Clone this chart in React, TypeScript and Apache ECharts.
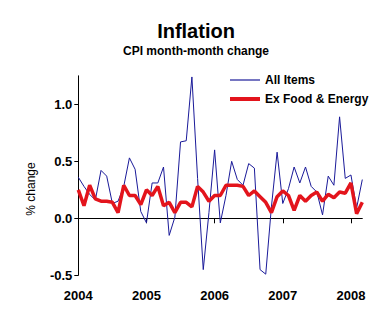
import React, { useEffect, useRef } from "react";
import * as echarts from "echarts";

const months: string[] = [];
for (let y = 2004; y <= 2008; y++) {
  for (let m = 1; m <= 12; m++) {
    if (y === 2008 && m > 3) break;
    months.push(`${y}-${m < 10 ? "0" + m : m}`);
  }
}

const yTicks = [-0.5, 0, 0.5, 1.0];

const allItems = [
  0.36, 0.28, 0.21, 0.16, 0.42, 0.37, 0.13, 0.15, 0.28, 0.53, 0.43, 0.06,
  -0.04, 0.31, 0.31, 0.45, -0.15, 0.01, 0.67, 0.68, 1.24, 0.35, -0.45, 0.05,
  0.6, -0.04, 0.2, 0.5, 0.34, 0.29, 0.48, 0.44, -0.45, -0.49, 0.1, 0.58,
  0.13, 0.26, 0.45, 0.31, 0.45, 0.28, 0.23, 0.03, 0.37, 0.29, 0.89, 0.35,
  0.38, 0.09, 0.34,
];

const exFoodEnergy = [
  0.25, 0.11, 0.29, 0.17, 0.15, 0.15, 0.14, 0.05, 0.29, 0.2, 0.2, 0.12,
  0.25, 0.2, 0.28, 0.11, 0.14, 0.05, 0.14, 0.14, 0.1, 0.28, 0.23, 0.15,
  0.2, 0.2, 0.29, 0.29, 0.29, 0.28, 0.2, 0.24, 0.19, 0.14, 0.05, 0.19,
  0.24, 0.2, 0.07, 0.2, 0.15, 0.2, 0.23, 0.15, 0.21, 0.18, 0.23, 0.22,
  0.31, 0.04, 0.14,
];

const FONT = 'Arial, "Liberation Sans", sans-serif';
const BLUE = "#1a1a99";
const RED = "#e3141c";

export default function App() {
  const ref = useRef<HTMLDivElement>(null);
  useEffect(() => {
    if (!ref.current) return;
    const chart = echarts.init(ref.current, undefined, { renderer: "svg" });
    const isJan = (idx: number) => idx % 12 === 0;
    chart.setOption({
      animation: false,
      backgroundColor: "#ffffff",
      title: {
        text: "Inflation",
        subtext: "CPI month-month change",
        left: 191,
        textAlign: "center",
        top: 16,
        itemGap: 4,
        textStyle: { fontFamily: FONT, fontWeight: "bold", fontSize: 20, color: "#000" },
        subtextStyle: { fontFamily: FONT, fontWeight: "bold", fontSize: 12, color: "#000" },
      },
      legend: [
        {
          data: [{ name: "All Items", icon: "rect" }],
          left: 230,
          top: 74,
          padding: 0,
          itemWidth: 30,
          itemHeight: 1.2,
          textStyle: { fontFamily: FONT, fontWeight: "bold", fontSize: 12, color: "#000" },
        },
        {
          data: [{ name: "Ex Food & Energy", icon: "rect" }],
          left: 230,
          top: 93,
          padding: 0,
          itemWidth: 30,
          itemHeight: 4,
          textStyle: { fontFamily: FONT, fontWeight: "bold", fontSize: 12, color: "#000" },
        },
      ],
      graphic: [
        {
          type: "text",
          x: 31,
          y: 189,
          rotation: Math.PI / 2,
          style: {
            text: "% change",
            fontFamily: FONT,
            fontSize: 12,
            fill: "#000",
            align: "center",
            verticalAlign: "middle",
          },
        },
      ],
      grid: { left: 78.3, right: 21.7, top: 75.8, bottom: 49.7, containLabel: false },
      xAxis: [
        {
          type: "category",
          data: months,
          boundaryGap: false,
          axisLine: { onZero: true, lineStyle: { color: "#000", width: 1 } },
          axisTick: { show: true, interval: (idx: number) => isJan(idx), length: 5, lineStyle: { color: "#000" } },
          axisLabel: { show: false },
          splitLine: { show: false },
        },
        {
          type: "category",
          data: months,
          boundaryGap: false,
          position: "bottom",
          axisLine: { show: false, onZero: false },
          axisTick: { show: false },
          axisLabel: {
            interval: (idx: number) => isJan(idx),
            formatter: (v: string) => v.slice(0, 4),
            margin: 14,
            fontFamily: FONT,
            fontWeight: "bold",
            fontSize: 13,
            color: "#000",
          },
          splitLine: { show: false },
        },
      ],
      yAxis: {
        type: "value",
        min: -0.5,
        max: 1.25,
        interval: 0.5,
        axisLine: { show: true, lineStyle: { color: "#000", width: 1 } },
        axisTick: { show: true, length: 4, customValues: yTicks, lineStyle: { color: "#000" } },
        axisLabel: {
          customValues: yTicks,
          formatter: (v: number) => v.toFixed(1),
          margin: 6,
          fontFamily: FONT,
          fontWeight: "bold",
          fontSize: 13,
          color: "#000",
        },
        splitLine: { show: false },
      },
      series: [
        {
          name: "All Items",
          type: "line",
          data: allItems,
          showSymbol: false,
          symbol: "none",
          lineStyle: { color: BLUE, width: 1 },
          itemStyle: { color: BLUE },
          z: 3,
        },
        {
          name: "Ex Food & Energy",
          type: "line",
          data: exFoodEnergy,
          showSymbol: false,
          symbol: "none",
          lineStyle: { color: RED, width: 3.5 },
          itemStyle: { color: RED },
          z: 4,
        },
      ],
    });
    return () => chart.dispose();
  }, []);
  return (
    <div
      ref={ref}
      style={{ position: "fixed", left: 0, top: 0, width: 384, height: 325, background: "#fff" }}
    />
  );
}
